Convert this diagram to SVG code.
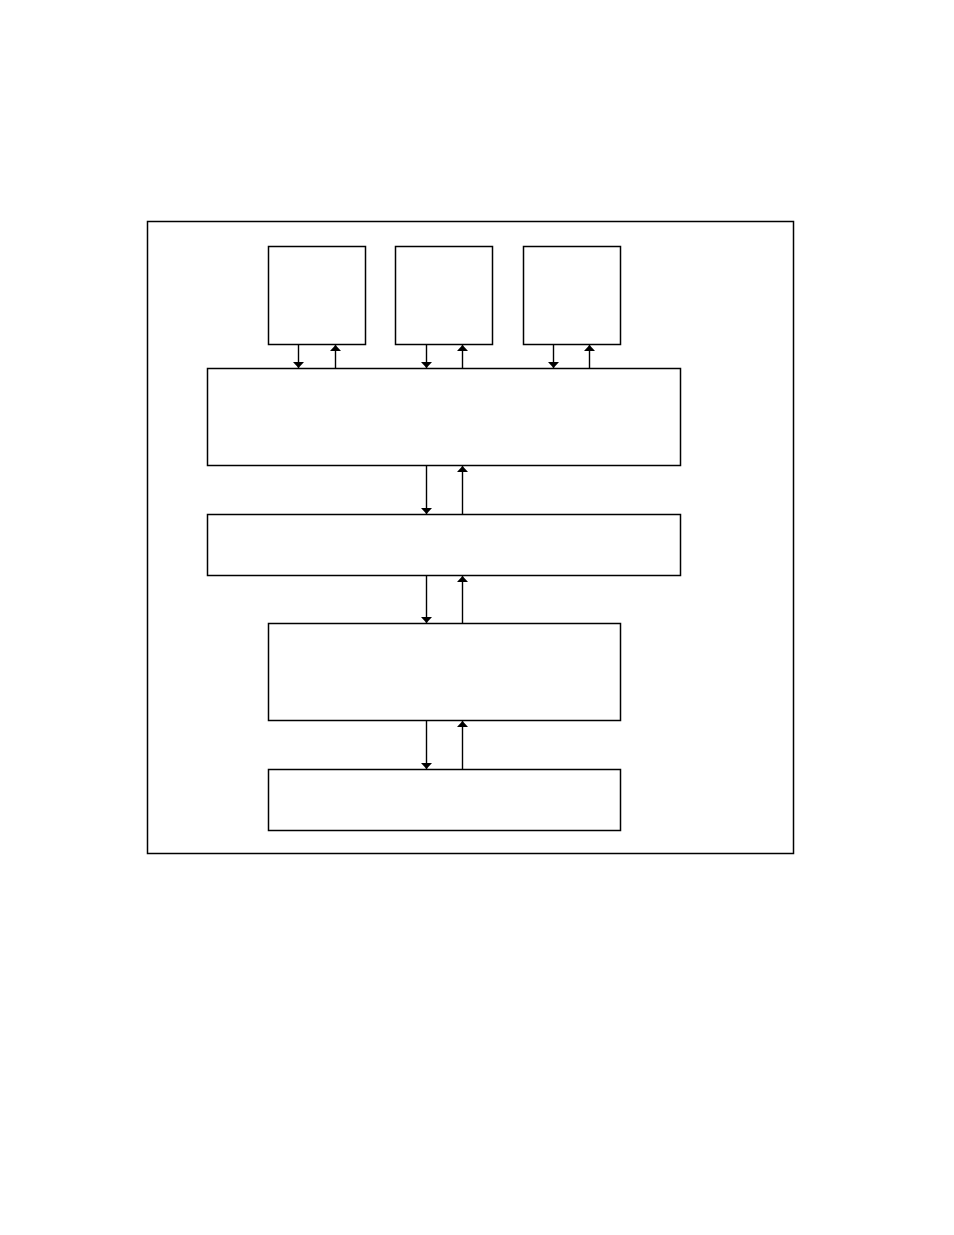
<svg xmlns="http://www.w3.org/2000/svg" width="954" height="1235" viewBox="0 0 954 1235">
<style>
.box{fill:none;stroke:#000;stroke-width:1.5}
.con{stroke:#000;stroke-width:1.4;fill:none}
</style>
<defs>
<marker id="ah" viewBox="0 0 6 11" refX="6" refY="5.5" markerWidth="6" markerHeight="11" markerUnits="userSpaceOnUse" orient="auto">
<path d="M0,0 L6,5.5 L0,11 Z" fill="#000"/>
</marker>
</defs>
<rect width="954" height="1235" fill="#fff"/>
<g id="frame"><rect class="box" x="147.5" y="221.5" width="646" height="632"/></g>
<g id="box1"><rect class="box" x="268.5" y="246.5" width="97" height="98"/></g>
<g id="box2"><rect class="box" x="395.5" y="246.5" width="97" height="98"/></g>
<g id="box3"><rect class="box" x="523.5" y="246.5" width="97" height="98"/></g>
<g id="boxA"><rect class="box" x="207.5" y="368.5" width="473" height="97"/></g>
<g id="boxB"><rect class="box" x="207.5" y="514.5" width="473" height="61"/></g>
<g id="boxC"><rect class="box" x="268.5" y="623.5" width="352" height="97"/></g>
<g id="boxD"><rect class="box" x="268.5" y="769.5" width="352" height="61"/></g>
<g id="connectors">
<line class="con" x1="298.5" y1="344" x2="298.5" y2="368" marker-end="url(#ah)"/>
<line class="con" x1="335.5" y1="368" x2="335.5" y2="345" marker-end="url(#ah)"/>
<line class="con" x1="426.5" y1="344" x2="426.5" y2="368" marker-end="url(#ah)"/>
<line class="con" x1="462.5" y1="368" x2="462.5" y2="345" marker-end="url(#ah)"/>
<line class="con" x1="553.5" y1="344" x2="553.5" y2="368" marker-end="url(#ah)"/>
<line class="con" x1="589.5" y1="368" x2="589.5" y2="345" marker-end="url(#ah)"/>
<line class="con" x1="426.5" y1="465" x2="426.5" y2="514" marker-end="url(#ah)"/>
<line class="con" x1="462.5" y1="514" x2="462.5" y2="466" marker-end="url(#ah)"/>
<line class="con" x1="426.5" y1="575" x2="426.5" y2="623" marker-end="url(#ah)"/>
<line class="con" x1="462.5" y1="623" x2="462.5" y2="576" marker-end="url(#ah)"/>
<line class="con" x1="426.5" y1="720" x2="426.5" y2="769" marker-end="url(#ah)"/>
<line class="con" x1="462.5" y1="769" x2="462.5" y2="721" marker-end="url(#ah)"/>
</g>
</svg>
